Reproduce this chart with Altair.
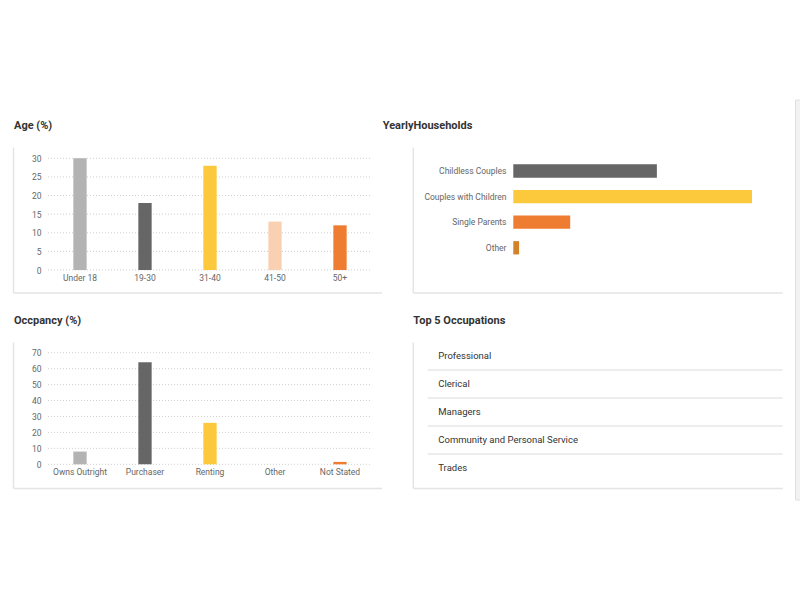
import altair as alt
import pandas as pd

# ---------------- data ----------------
age_groups = ["Under 18", "19-30", "31-40", "41-50", "50+"]
age_values = [30, 18, 28, 13, 12]
age_ticks = [0, 5, 10, 15, 20, 25, 30]

household_types = ["Childless Couples", "Couples with Children", "Single Parents", "Other"]
household_values = [32.3, 53.7, 12.8, 1.3]

occupancy_types = ["Owns Outright", "Purchaser", "Renting", "Other", "Not Stated"]
occupancy_values = [8, 64, 26, 0, 1.5]
occupancy_ticks = [0, 10, 20, 30, 40, 50, 60, 70]

occupations = ["Professional", "Clerical", "Managers",
               "Community and Personal Service", "Trades"]

titles = ["Age (%)", "YearlyHouseholds", "Occpancy (%)", "Top 5 Occupations"]

# ---------------- styles ----------------
bar_colors = ["#b3b3b3", "#666666", "#fcc83c", "#f9d0b2", "#ef7d31"]
household_colors = ["#666666", "#fcc83c", "#ef7d31", "#d4822a"]
FONT = "Roboto"
W, H = 800, 600
CARD = "#e4e4e4"
GRID = "#cfcfcf"

one = pd.DataFrame({"k": [0]})


def axis_common(color="#666666", size=8.5, **kw):
    return alt.Axis(title=None, domain=False, ticks=False, grid=False,
                    labelFont=FONT, labelFontSize=size, labelColor=color, **kw)


def card(x0, x1, y0, y1):
    left = alt.Chart(one).mark_rule(color=CARD, strokeWidth=1.5).encode(
        x=alt.value(x0), y=alt.value(y0), y2=alt.value(y1))
    bottom = alt.Chart(one).mark_rule(color=CARD, strokeWidth=1.5).encode(
        x=alt.value(x0), x2=alt.value(x1), y=alt.value(y1))
    return [left, bottom]


def title(text, x, y):
    return alt.Chart(pd.DataFrame({"t": [text]})).mark_text(
        align="left", baseline="middle", font=FONT, fontSize=11,
        fontWeight="bold", color="#333333").encode(
        text="t:N", x=alt.value(x), y=alt.value(y))


# ---------------- Age ----------------
age_df = pd.DataFrame({"group": age_groups, "value": age_values})
age_x = alt.Scale(domain=age_groups, range=[47.5, 372.5],
                  paddingInner=0.795, paddingOuter=0.3975)
age_y = alt.Scale(domain=[0, 30], range=[270, 158.3], nice=False, zero=True)

age_grid = alt.Chart(pd.DataFrame({"tick": age_ticks})).mark_rule(
    color=GRID, strokeDash=[1, 2], strokeWidth=1).encode(
    y=alt.Y("tick:Q", scale=age_y, axis=None),
    x=alt.value(48), x2=alt.value(372))

age_bars = alt.Chart(age_df).mark_bar().encode(
    x=alt.X("group:N", scale=age_x,
            axis=axis_common(orient="bottom", offset=270 - H, labelAngle=0,
                             labelPadding=3)),
    y=alt.Y("value:Q", scale=age_y,
            axis=axis_common(orient="left", offset=-43, values=age_ticks,
                             labelPadding=2)),
    color=alt.Color("group:N", scale=alt.Scale(domain=age_groups, range=bar_colors),
                    legend=None))

# ---------------- Households ----------------
hh_df = pd.DataFrame({"type": household_types, "value": household_values})
hh_bars = alt.Chart(hh_df).mark_bar().encode(
    x=alt.X("value:Q", scale=alt.Scale(domain=[0, 60], range=[513.3, 780],
                                       nice=False, zero=True), axis=None),
    y=alt.Y("type:N",
            scale=alt.Scale(domain=household_types, range=[158.2, 260.6],
                            paddingInner=0.48, paddingOuter=0.24),
            axis=axis_common(color="#666666", size=8.5, orient="left",
                             offset=-506, labelPadding=0)),
    color=alt.Color("type:N", scale=alt.Scale(domain=household_types,
                                              range=household_colors),
                    legend=None))

# ---------------- Occupancy ----------------
occ_df = pd.DataFrame({"type": occupancy_types, "value": occupancy_values})
occ_x = alt.Scale(domain=occupancy_types, range=[47.5, 372.5],
                  paddingInner=0.795, paddingOuter=0.3975)
occ_y = alt.Scale(domain=[0, 70], range=[464.3, 352.7], nice=False, zero=True)

occ_grid = alt.Chart(pd.DataFrame({"tick": occupancy_ticks})).mark_rule(
    color=GRID, strokeDash=[1, 2], strokeWidth=1).encode(
    y=alt.Y("tick:Q", scale=occ_y, axis=None),
    x=alt.value(48), x2=alt.value(372))

occ_bars = alt.Chart(occ_df).mark_bar().encode(
    x=alt.X("type:N", scale=occ_x,
            axis=axis_common(orient="bottom", offset=464.3 - H, labelAngle=0,
                             labelPadding=3)),
    y=alt.Y("value:Q", scale=occ_y,
            axis=axis_common(orient="left", offset=-43, values=occupancy_ticks,
                             labelPadding=2)),
    color=alt.Color("type:N", scale=alt.Scale(domain=occupancy_types,
                                              range=bar_colors),
                    legend=None))

# ---------------- Occupations list ----------------
occup_df = pd.DataFrame({"name": occupations})
list_y = alt.Scale(domain=occupations, range=[342, 482],
                   paddingInner=0, paddingOuter=0)
occup_text = alt.Chart(occup_df).mark_text(
    align="left", baseline="middle", font=FONT, fontSize=9.5,
    color="#333333").encode(
    y=alt.Y("name:N", scale=list_y, axis=None),
    x=alt.value(438.3), text="name:N")

occup_sep = alt.Chart(pd.DataFrame({"name": occupations[:-1]})).mark_rule(
    color="#dcdcdc", strokeWidth=1).encode(
    y=alt.Y("name:N", scale=alt.Scale(domain=occupations, range=[342, 482],
                                      paddingInner=0, paddingOuter=0),
            bandPosition=1, axis=None),
    x=alt.value(427.7), x2=alt.value(782.7))

# ---------------- page decorations ----------------
scrollbar = alt.Chart(one).mark_rect(color="#f2f2f2", stroke="#e0e0e0",
                                     strokeWidth=1).encode(
    x=alt.value(795.5), x2=alt.value(801), y=alt.value(100), y2=alt.value(500))

layers = []
layers += card(13.5, 382, 147.5, 293)
layers += card(413.3, 782.7, 147.5, 293)
layers += card(13.5, 382, 342.5, 488.5)
layers += card(413.3, 782.7, 342.5, 488.5)
layers += [scrollbar]
layers += [title(titles[0], 14, 126), title(titles[1], 382.7, 126),
           title(titles[2], 14, 320.5), title(titles[3], 413.3, 320.5)]
layers += [age_grid, age_bars, hh_bars, occ_grid, occ_bars, occup_sep, occup_text]

chart = alt.layer(*layers).resolve_scale(
    x="independent", y="independent", color="independent"
).resolve_axis(
    x="independent", y="independent"
).properties(
    width=W, height=H, padding=0,
    autosize=alt.AutoSizeParams(type="none"),
    background="white"
).configure_view(stroke=None)

chart.save("out.html", embed_options={"renderer": "svg", "actions": False})
